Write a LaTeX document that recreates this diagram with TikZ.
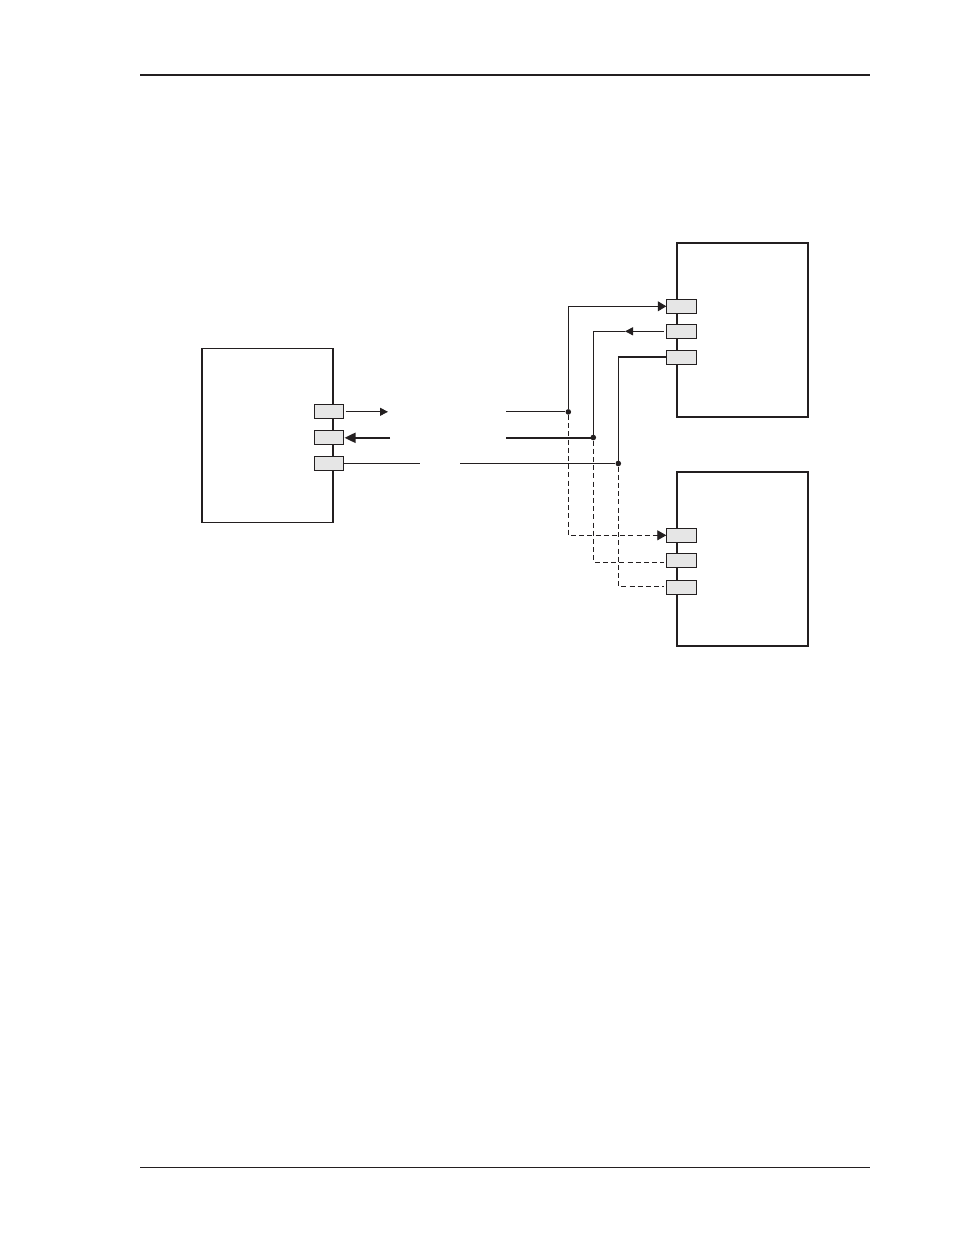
\documentclass[tikz,border=0pt]{standalone}
\usetikzlibrary{arrows.meta,calc}
\definecolor{ink}{HTML}{231F20}
\definecolor{portfill}{HTML}{E6E6E6}
\tikzset{
  unitbox/.style={draw=ink,line width=1.9pt,fill=white,rectangle,inner sep=0pt,minimum width=131pt,minimum height=174pt,anchor=north west},
  port/.style={draw=ink,line width=0.8pt,fill=portfill,rectangle,inner sep=0pt,minimum width=29.6pt,minimum height=13.8pt},
  joint/.style={circle,fill=ink,inner sep=0pt,minimum size=5.6pt},
  lightwire/.style={draw=ink,line width=0.85pt},
  heavywire/.style={draw=ink,line width=1.9pt},
  dashwire/.style={draw=ink,line width=0.85pt,dash pattern=on 5pt off 3.2pt},
  pagerule/.style={draw=ink},
  bigtip/.style={-{Triangle[length=8.5pt,width=10pt]}},
  smalltip/.style={-{Triangle[length=8pt,width=8pt]}},
}
\begin{document}
\begin{tikzpicture}[x=1pt,y=-1pt]
\useasboundingbox (0,0) rectangle (954,1235);
% page rules
\coordinate (tl) at (140,75); \coordinate (tr) at (870,75);
\coordinate (bl) at (140,1167); \coordinate (br) at (870,1167);
\draw[pagerule,line width=1.9pt] (tl) -- (tr);
\draw[pagerule,line width=0.7pt] (bl) -- (br);
% units
\node[unitbox] (L) at (200.95,347.55) {};
\node[unitbox] (A) at (676.35,242.05) {};
\node[unitbox] (B) at (676.35,471.35) {};
% ports
\node[port] (L1) at (329,411.5) {};
\node[port] (L2) at (329,437.5) {};
\node[port] (L3) at (329,463.5) {};
\node[port] (A1) at (681.5,306.3) {};
\node[port] (A2) at (681.5,331.3) {};
\node[port] (A3) at (681.5,357.3) {};
\node[port] (B1) at (681.5,535.3) {};
\node[port] (B2) at (681.5,560.5) {};
\node[port] (B3) at (681.5,587.3) {};
% junctions
\node[joint] (J1) at (568.3,411.9) {};
\node[joint] (J2) at (593.3,437.5) {};
\node[joint] (J3) at (618.3,463.5) {};
% free ends
\coordinate (a1s) at (345.5,411.8); \coordinate (a1e) at (388,411.8);
\coordinate (a2s) at (390,437.8); \coordinate (a2e) at (344.5,437.8);
\coordinate (g1) at (420,463.5); \coordinate (g2) at (460,463.5);
\coordinate (r1) at (506,411.9); \coordinate (r2) at (506,438);
\coordinate (m1) at (664,331.3); \coordinate (m2) at (625,331.3);
% left side wires
\draw[lightwire,smalltip] (a1s) -- (a1e);
\draw[heavywire,-{Triangle[length=11pt,width=10pt]}] (a2s) -- (a2e);
\draw[lightwire] (L3) -- (g1);
\draw[lightwire] (g2) -- (J3);
\draw[lightwire] (r1) -- (J1);
\draw[heavywire] (r2) -- (J2 |- r2);
% to upper unit
\draw[lightwire,bigtip] (J1) |- (A1.west);
\draw[lightwire,smalltip] (m1) -- (m2);
\draw[lightwire] (m2) -| (J2);
\draw[lightwire] (J3) -- (J3 |- A3);
\draw[heavywire] ($(J3 |- A3)+(-0.4,0)$) -- (A3.west);
% to lower unit
\coordinate (d2) at (664,562);
\coordinate (d3) at (664,586.5);
\draw[dashwire,-{Triangle[length=9pt,width=10pt]}] (J1) |- (B1.west);
\draw[dashwire] (J2) |- (d2);
\draw[dashwire] (J3) |- (d3);
\end{tikzpicture}
\end{document}
